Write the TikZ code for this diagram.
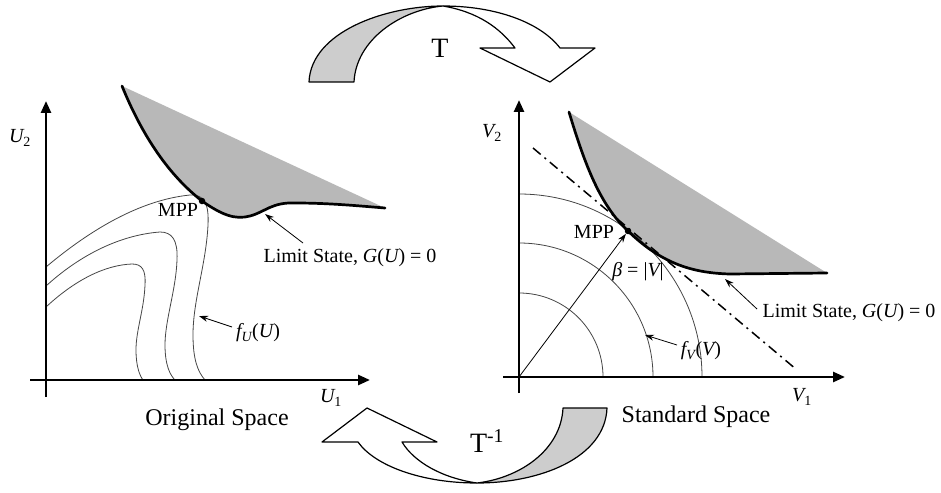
\documentclass[tikz,border=0pt]{standalone}
\usepackage{fontspec}
\setmainfont{Liberation Serif}
\usetikzlibrary{arrows.meta,positioning,calc}
\definecolor{FailGray}{RGB}{184,184,184}
\definecolor{BandGray}{RGB}{205,205,205}
\definecolor{ContourGray}{RGB}{70,70,70}
\newcommand{\vr}[1]{{\itshape #1}}
\tikzset{
  axisarr/.style={line width=2.6pt, -{Triangle[length=12pt, width=10pt]}},
  limitline/.style={line width=2.7pt, line join=round, line cap=round},
  failfill/.style={fill=FailGray, draw=none},
  contourline/.style={line width=0.8pt, draw=ContourGray},
  tangentline/.style={line width=1.5pt, dash pattern=on 10pt off 5pt on 2pt off 5pt},
  pointarr/.style={line width=0.8pt, -{Stealth[length=9pt, width=6pt]}},
  mppdot/.style={circle, fill=black, inner sep=0pt, minimum size=6.5pt},
  lbl/.style={font=\fontsize{20}{24}\selectfont, inner sep=1pt},
  spacelbl/.style={font=\fontsize{24}{28}\selectfont, inner sep=1pt},
  maplbl/.style={font=\fontsize{28}{32}\selectfont, inner sep=0pt, anchor=base},
  bandpart/.style={draw=black, line width=1.2pt, line join=round},
}
\begin{document}
\begin{tikzpicture}[x=1pt, y=-1pt]
  \useasboundingbox[fill=white] (0,0) rectangle (941,492);

  % ---- mapping arrows T and T^-1 ----
  \filldraw[bandpart, fill=BandGray] (309,82) .. controls (311,32) and (385,6) .. (443,6)
    .. controls (400,10) and (356,40) .. (354,82) -- cycle;
  \filldraw[bandpart, fill=white] (443,6) .. controls (495,6) and (540,22) .. (560,48)
    -- (595,48) -- (550,82) -- (480,48) -- (515,48) .. controls (500,28) and (478,12) .. (443,6);
  \node[maplbl] (tmap) at (440,58) {T};

  \filldraw[bandpart, fill=BandGray] (607,408) .. controls (605,458) and (540,483) .. (477,483)
    .. controls (520,478) and (561,450) .. (563,408) -- cycle;
  \filldraw[bandpart, fill=white] (477,483) .. controls (422,483) and (375,466) .. (358,442)
    -- (322,442) -- (367,408) -- (437,442) -- (402,442) .. controls (414,462) and (442,478) .. (477,483);
  \node[maplbl] (tinv) at (487,452) {T\textsuperscript{-1}};

  % ---- original space ----
  \filldraw[failfill] (122,86) .. controls (140,130) and (165,172) .. (202,201)
    .. controls (222,215) and (235,220) .. (250,216) .. controls (265,212) and (272,202) .. (295,203)
    .. controls (330,203) and (360,206) .. (385,208) -- cycle;

  \draw[contourline] (46,267) .. controls (90,230) and (140,200) .. (190,195)
    .. controls (205,194) and (209,205) .. (208,225) .. controls (206,265) and (193,300) .. (193,335)
    .. controls (193,360) and (198,372) .. (205,380);
  \draw[contourline] (46,286) .. controls (80,255) and (120,235) .. (160,232)
    .. controls (172,232) and (178,240) .. (177,260) .. controls (176,290) and (165,320) .. (165,345)
    .. controls (165,365) and (170,375) .. (175,380);
  \draw[contourline] (46,307) .. controls (75,280) and (105,265) .. (132,264)
    .. controls (142,264) and (146,270) .. (145,285) .. controls (144,310) and (136,330) .. (136,350)
    .. controls (136,367) and (140,376) .. (143,380);

  \draw[limitline] (122,86) .. controls (140,130) and (165,172) .. (202,201)
    .. controls (222,215) and (235,220) .. (250,216) .. controls (265,212) and (272,202) .. (295,203)
    .. controls (330,203) and (360,206) .. (385,208);

  \coordinate (ubot) at (46,397);
  \coordinate (utop) at (46,101);
  \coordinate (uleft) at (30,380);
  \coordinate (uright) at (370,380);
  \draw[axisarr] (ubot) -- (utop);
  \draw[axisarr] (uleft) -- (uright);
  \node[lbl] (u2) at (20,138) {\vr{U}\textsubscript{2}};
  \node[lbl] (u1) at (331,398) {\vr{U}\textsubscript{1}};

  \node[mppdot] (mppL) at (202,201) {};
  \node[lbl] (mppLlbl) at (178,210) {MPP};

  \node[lbl] (lsL) at (350,258) {Limit State, \vr{G}(\vr{U}) = 0};
  \coordinate (lsLstart) at (303,243);
  \coordinate (lsLend) at (265,214);
  \draw[pointarr] (lsLstart) -- (lsLend);

  \node[lbl] (fu) at (258,333) {\vr{f}\textsubscript{\vr{U}}(\vr{U})};
  \coordinate (fustart) at (232,327);
  \coordinate (fuend) at (199,316);
  \draw[pointarr] (fustart) -- (fuend);

  \node[spacelbl] (orig) at (217,420) {Original Space};

  % ---- standard space ----
  \filldraw[failfill] (569,112) .. controls (585,165) and (600,205) .. (628,231)
    .. controls (660,262) and (690,273) .. (730,274) -- (827,273) -- cycle;

  \coordinate (vo) at (519,377);
  \foreach \r in {84,134,183}
    \draw[contourline] (vo) ++(\r,0) arc[start angle=0, end angle=-90, radius=\r];

  \coordinate (tanstart) at (533,148);
  \coordinate (tanend) at (797,370);
  \draw[tangentline] (tanstart) -- (tanend);

  \draw[limitline] (569,112) .. controls (585,165) and (600,205) .. (628,231)
    .. controls (660,262) and (690,273) .. (730,274) -- (827,273);

  \coordinate (vbot) at (519,393);
  \coordinate (vtop) at (519,100);
  \coordinate (vleft) at (503,377);
  \coordinate (vright) at (845,377);
  \draw[axisarr] (vbot) -- (vtop);
  \draw[axisarr] (vleft) -- (vright);
  \node[lbl] (v2) at (492,133) {\vr{V}\textsubscript{2}};
  \node[lbl] (v1) at (802,397) {\vr{V}\textsubscript{1}};

  \node[mppdot] (mppR) at (628,231) {};
  \node[lbl] (mppRlbl) at (594,232) {MPP};
  \draw[pointarr] (vo) -- (mppR);
  \node[lbl] (beta) at (638,272) {\vr{β} = |\vr{V}|};

  \node[lbl] (lsR) at (849,313) {Limit State, \vr{G}(\vr{U}) = 0};
  \coordinate (lsRstart) at (757,309);
  \coordinate (lsRend) at (725,279);
  \draw[pointarr] (lsRstart) -- (lsRend);

  \node[lbl] (fv) at (701,351) {\vr{f}\textsubscript{\vr{V}}(\vr{V})};
  \coordinate (fvstart) at (677,345);
  \coordinate (fvend) at (645,335);
  \draw[pointarr] (fvstart) -- (fvend);

  \node[spacelbl] (stand) at (696,417) {Standard Space};
\end{tikzpicture}
\end{document}
